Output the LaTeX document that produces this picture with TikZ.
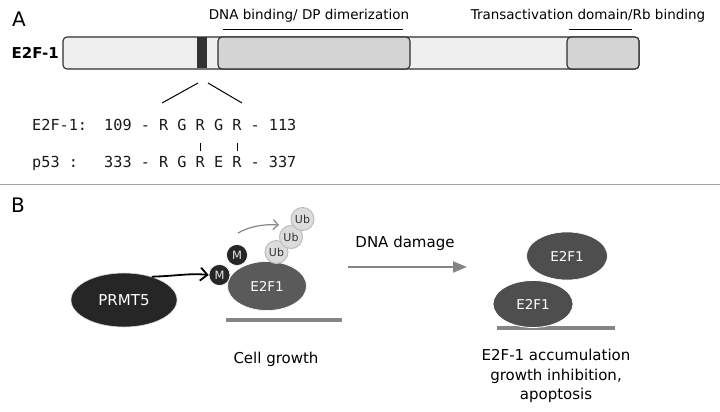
\documentclass[tikz,border=0pt]{standalone}
\usepackage{fontspec}
\setmainfont{DejaVu Sans}
\setmonofont{DejaVu Sans Mono}[WordSpace={1,0,0}]
\usetikzlibrary{arrows.meta,shapes.geometric}
\definecolor{barfill}{HTML}{EFEFEF}
\definecolor{domfill}{HTML}{D4D4D4}
\definecolor{bordc}{HTML}{2E2E2E}
\definecolor{bandc}{HTML}{333333}
\definecolor{prmtc}{HTML}{262626}
\definecolor{eleft}{HTML}{5A5A5A}
\definecolor{eright}{HTML}{4E4E4E}
\definecolor{dnac}{HTML}{858585}
\definecolor{ubfill}{HTML}{DCDCDC}
\definecolor{ubdraw}{HTML}{BDBDBD}
\definecolor{sepc}{HTML}{A0A0A0}
\tikzset{
  dombox/.style={draw=bordc,line width=1.1pt,rounded corners=4pt,inner sep=0pt,minimum height=32pt},
  seqtext/.style={anchor=base west,inner sep=0pt,font=\ttfamily\fontsize{15.2}{18}\selectfont,text=black!90},
  lbl/.style={inner sep=0pt,font=\fontsize{13.5}{16}\selectfont},
  blbl/.style={inner sep=0pt,font=\fontsize{15}{18}\selectfont},
  panel/.style={inner sep=0pt,font=\fontsize{20}{24}\selectfont},
  prot/.style={ellipse,inner sep=0pt,text=white,font=\fontsize{13.5}{16}\selectfont},
  mcirc/.style={circle,fill=prmtc,draw=white,line width=0.6pt,minimum size=21pt,inner sep=0pt,text=white!90!black,font=\fontsize{11.5}{13}\selectfont},
  ubcirc/.style={circle,fill=ubfill,draw=ubdraw,line width=1pt,minimum size=23pt,inner sep=0pt,text=black!80,font=\fontsize{11}{13}\selectfont},
  dnabar/.style={draw=dnac,line width=4pt},
}
\begin{document}
\begin{tikzpicture}[x=1pt,y=-1pt]
\useasboundingbox (0,0) rectangle (720,412);
% ---------- Panel A ----------
\node[panel] (pA) at (19,19) {A};
\node[dombox,fill=barfill,minimum width=576pt] (bar) at (351,53) {};
\node[inner sep=0pt,fill=bandc,minimum width=10pt,minimum height=31pt] (band) at (202,53) {};
\node[dombox,fill=domfill,minimum width=192pt] (dbd) at (314,53) {};
\node[dombox,fill=domfill,minimum width=72pt] (tad) at (603,53) {};
\node[anchor=east,inner sep=0pt,font=\bfseries\fontsize{15}{18}\selectfont] (lab) at (59,53) {E2F-1};
\node[lbl] (dbdlab) at (309,16) {DNA binding/ DP dimerization};
\node[lbl] (tadlab) at (588,16) {Transactivation domain/Rb binding};
\coordinate (o1a) at (223,30); \coordinate (o1b) at (403,30);
\coordinate (o2a) at (569,30); \coordinate (o2b) at (632,30);
\draw[line width=1pt] (o1a) -- (o1b);
\draw[line width=1pt] (o2a) -- (o2b);
\coordinate (za) at (198,83); \coordinate (zb) at (162,103);
\coordinate (zc) at (208,83); \coordinate (zd) at (242,103);
\draw[line width=1pt] (za) -- (zb);
\draw[line width=1pt] (zc) -- (zd);
\node[seqtext] (s1n) at (32,130) {E2F-1:};
\node[seqtext] (s1) at (104,130) {109 - R G R G R - 113};
\node[seqtext] (s2n) at (32,167) {p53 :};
\node[seqtext] (s2) at (104,167) {333 - R G R E R - 337};
\coordinate (v1a) at (200,143); \coordinate (v1b) at (200,151);
\coordinate (v2a) at (237,143); \coordinate (v2b) at (237,151);
\draw[line width=0.8pt] (v1a) -- (v1b);
\draw[line width=0.8pt] (v2a) -- (v2b);
% separator
\coordinate (sepl) at (0,184); \coordinate (sepr) at (720,184);
\draw[sepc,line width=1pt] (sepl) -- (sepr);
% ---------- Panel B ----------
\node[panel] (pB) at (18,205) {B};
\node[prot,fill=prmtc,draw=black!15,line width=0.6pt,minimum width=106pt,minimum height=54pt,font=\fontsize{15}{18}\selectfont] (prmt) at (124,300) {PRMT5};
\coordinate (b1a) at (226,320); \coordinate (b1b) at (342,320);
\draw[dnabar] (b1a) -- (b1b);
\node[prot,fill=eleft,draw=white,line width=0.6pt,minimum width=79pt,minimum height=49pt] (e1) at (267,286) {E2F1};
\node[mcirc] (m1) at (219.5,275) {M};
\node[mcirc] (m2) at (237,255) {M};
\node[ubcirc] (ub1) at (276.5,252) {Ub};
\node[ubcirc] (ub2) at (291,237) {Ub};
\node[ubcirc] (ub3) at (302.5,219) {Ub};
\draw[line width=1.8pt,-{Straight Barb[length=7pt,width=13pt]}] (prmt.40) .. controls (176,276) and (190,273) .. (m1.west);
\coordinate (ua) at (238,233);
\coordinate (ub) at (279,225);
\draw[dnac,line width=1.2pt,-{Straight Barb[length=5pt,width=10pt]}] (ua) .. controls (250,226) and (265,224) .. (ub);
\node[blbl] (cg) at (276,359) {Cell growth};
\coordinate (da) at (348,267); \coordinate (db) at (467,267);
\draw[dnac,line width=2pt,-{Triangle[length=14pt,width=11pt]}] (da) -- (db);
\node[blbl] (dd) at (405,243) {DNA damage};
\coordinate (b2a) at (497,328); \coordinate (b2b) at (615,328);
\draw[dnabar] (b2a) -- (b2b);
\node[prot,fill=eright,draw=white,line width=0.6pt,minimum width=81pt,minimum height=48pt] (e2) at (567,256) {E2F1};
\node[prot,fill=eright,draw=white,line width=0.8pt,minimum width=80pt,minimum height=47pt] (e3) at (533,304) {E2F1};
\node[blbl,align=center,font=\fontsize{15}{19.5}\selectfont] (res) at (556,376) {E2F-1 accumulation\\growth inhibition,\\apoptosis};
\end{tikzpicture}
\end{document}
